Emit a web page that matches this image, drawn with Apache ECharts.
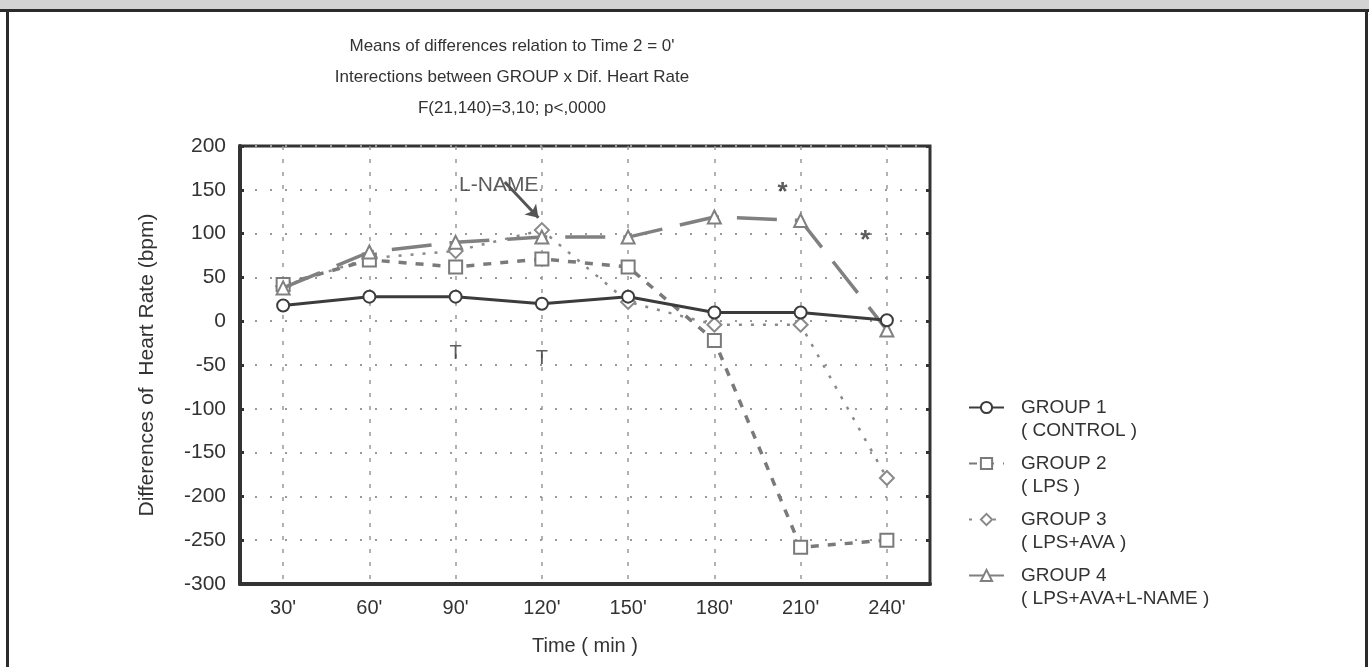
<!DOCTYPE html>
<html>
<head>
<meta charset="utf-8">
<title>Heart rate differences</title>
<script src="https://cdn.jsdelivr.net/npm/echarts@6/dist/echarts.min.js"></script>
<style>
  html, body { margin: 0; padding: 0; background: #fff; }
  #main { position: absolute; left: 0; top: 0; width: 1369px; height: 667px; }
  #band { position: absolute; left: 0; top: 0; width: 1369px; height: 9px; background: #d3d3d3; border-bottom: 3px solid #2b2b2b; }
  #lb { position: absolute; left: 6px; top: 9px; width: 3px; height: 658px; background: #2b2b2b; }
  #rb { position: absolute; left: 1365px; top: 9px; width: 3px; height: 658px; background: #2b2b2b; }
</style>
</head>
<body>
<div id="main"></div>
<div id="band"></div>
<div id="lb"></div>
<div id="rb"></div>
<script>
  // values
  var times = ["30'", "60'", "90'", "120'", "150'", "180'", "210'", "240'"];
  var group1 = [18, 28, 28, 20, 28, 10, 10, 1];
  var group2 = [42, 70, 62, 71, 62, -22, -258, -250];
  var group3 = [40, 72, 80, 104, 22, -4, -4, -179];
  var group4 = [38, 79, 90, 96, 96, 119, 115, -10];

  var groupNames = ['GROUP 1', 'GROUP 2', 'GROUP 3', 'GROUP 4'];
  var groupSubs = ['( CONTROL )', '( LPS )', '( LPS+AVA )', '( LPS+AVA+L-NAME )'];

  var titleLines = [
    "Means of differences relation to Time 2 = 0'",
    'Interections between GROUP x Dif. Heart Rate',
    'F(21,140)=3,10; p<,0000'
  ];

  // annotations, x as category index (0 = 30'), y in bpm
  var noteText = ['L-NAME', 'T', 'T', '*', '*'];
  var noteX = [2.5, 2, 3, 5.79, 6.75];
  var noteY = [155, -37, -42, 147, 92];
  var arrowFrom = [2.57, 159];
  var arrowTo = [2.96, 118];

  var font = 'Liberation Sans, Arial, sans-serif';
  var dark = '#333';

  var dom = document.getElementById('main');
  var myChart = echarts.init(dom, null, { renderer: 'canvas' });

  var noteStyle = {
    'L-NAME': { fontSize: 21, color: dark },
    'T': { fontSize: 20, color: dark },
    '*': { fontSize: 26, color: dark, fontWeight: 'bold' }
  };
  var noteData = [];
  for (var i = 0; i < noteText.length; i++) {
    var st = noteStyle[noteText[i]];
    noteData.push({
      value: [noteX[i], noteY[i]],
      label: {
        show: true,
        position: 'inside',
        formatter: noteText[i],
        fontSize: st.fontSize,
        color: st.color,
        fontWeight: st.fontWeight || 'normal',
        fontFamily: font
      }
    });
  }

  function lineSeries(name, data, symbol, size, color, width, type, z) {
    return {
      name: name,
      type: 'line',
      data: data,
      symbol: symbol,
      symbolSize: size,
      z: z,
      lineStyle: { color: color, width: width, type: type },
      itemStyle: { color: '#fff', borderColor: color, borderWidth: 2 },
      emphasis: { disabled: true }
    };
  }

  var option = {
    animation: false,
    textStyle: { fontFamily: font },
    title: {
      text: titleLines.join('\n'),
      left: 507,
      top: 26,
      textAlign: 'center',
      textStyle: { fontSize: 17, fontWeight: 'normal', color: dark, lineHeight: 31, fontFamily: font }
    },
    legend: {
      orient: 'vertical',
      left: 968,
      top: 373,
      padding: 0,
      itemGap: -13,
      itemWidth: 35,
      itemHeight: 14,
      data: groupNames,
      formatter: function (name) {
        return '\n' + name + '\n' + groupSubs[groupNames.indexOf(name)];
      },
      textStyle: { fontSize: 19, color: dark, lineHeight: 23, padding: [0, 0, 0, 12], fontFamily: font }
    },
    grid: {
      left: 240,
      right: 439,
      top: 146,
      bottom: 83,
      show: true,
      borderColor: dark,
      borderWidth: 3,
      outerBoundsMode: 'none'
    },
    xAxis: [
      {
        type: 'category',
        data: times,
        boundaryGap: true,
        name: 'Time ( min )',
        nameLocation: 'middle',
        nameGap: 52,
        nameMoveOverlap: false,
        nameTextStyle: { fontSize: 20, color: dark },
        axisLine: { onZero: false, lineStyle: { color: dark, width: 4 } },
        axisTick: { inside: true, alignWithLabel: true, length: 4, lineStyle: { color: dark, width: 4 } },
        axisLabel: { fontSize: 20, color: dark, margin: 14 },
        splitLine: { show: true, alignWithLabel: true, lineStyle: { color: '#999', width: 1.5, type: [4, 9] } }
      },
      { type: 'value', show: false, min: -0.5, max: 7.5 }
    ],
    yAxis: [
      {
        type: 'value',
        min: -300,
        max: 200,
        interval: 50,
        name: 'Differences of  Heart Rate (bpm)',
        nameLocation: 'middle',
        nameGap: 82,
        nameTextStyle: { fontSize: 21, color: dark },
        axisLine: { show: true, onZero: false, lineStyle: { color: dark, width: 4 } },
        axisTick: { show: true, inside: true, length: 4, lineStyle: { color: dark, width: 3 } },
        axisLabel: { fontSize: 21, color: dark, margin: 14 },
        splitLine: { show: true, lineStyle: { color: '#999', width: 2, type: [2, 13] } }
      },
      {
        type: 'value',
        position: 'right',
        min: -300,
        max: 200,
        interval: 50,
        axisLine: { show: false, onZero: false },
        axisTick: { show: true, inside: true, length: 4, lineStyle: { color: dark, width: 3 } },
        axisLabel: { show: false },
        splitLine: { show: false }
      }
    ],
    series: [
      lineSeries('GROUP 2', group2, 'rect', 13, '#7a7a7a', 3.5, [8, 9], 3),
      lineSeries('GROUP 3', group3, 'diamond', 14, '#8a8a8a', 2.5, [3, 9], 2),
      lineSeries('GROUP 4', group4, 'triangle', 13, '#808080', 3.5, [40, 18], 4),
      lineSeries('GROUP 1', group1, 'circle', 12, '#3c3c3c', 3, 'solid', 5),
      {
        type: 'scatter',
        xAxisIndex: 1,
        silent: true,
        symbolSize: 0,
        data: noteData,
        markLine: {
          silent: true,
          symbol: ['none', 'arrow'],
          symbolSize: 12,
          label: { show: false },
          lineStyle: { color: '#555', width: 3, type: 'solid' },
          data: [[{ coord: arrowFrom }, { coord: arrowTo }]]
        }
      }
    ]
  };

  myChart.setOption(option);
</script>
</body>
</html>
